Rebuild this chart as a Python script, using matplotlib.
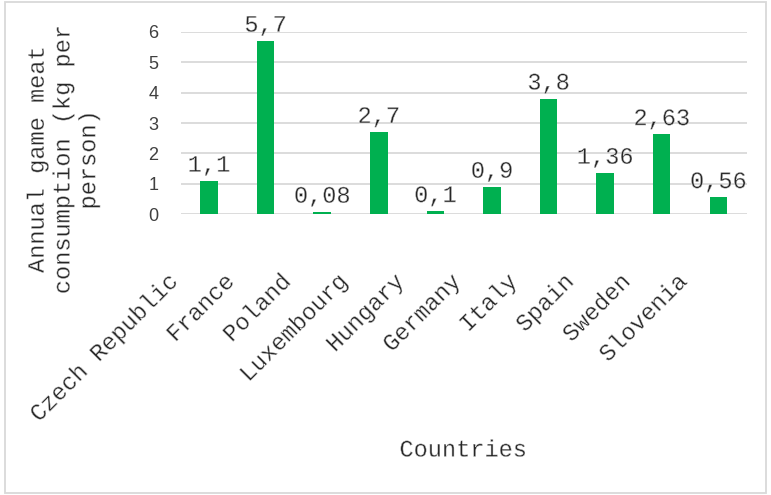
import matplotlib
matplotlib.use("Agg")
import matplotlib.pyplot as plt
import matplotlib.transforms as mtransforms
import matplotlib.patheffects as pe
from matplotlib.patches import Rectangle

countries = ["Czech Republic", "France", "Poland", "Luxembourg", "Hungary",
             "Germany", "Italy", "Spain", "Sweden", "Slovenia"]
consumption = [1.1, 5.7, 0.08, 2.7, 0.1, 0.9, 3.8, 1.36, 2.63, 0.56]
y_ticks = [0, 1, 2, 3, 4, 5, 6]
y_label = "Annual game meat\nconsumption (kg per\nperson)"
x_label = "Countries"

MONO = ["Liberation Mono", "DejaVu Sans Mono"]
SANS = ["Liberation Sans", "DejaVu Sans"]
TXT = "#262626"
DPI = 100
THIN = [pe.Normal(), pe.Stroke(linewidth=0.35, foreground="white")]

fig = plt.figure(figsize=(7.71, 4.95), dpi=DPI)
ax = fig.add_axes([180.7 / 771, 1 - 214.3 / 495, (746.6 - 180.7) / 771, (214.3 - 31.7) / 495])

x = list(range(len(countries)))
bars = ax.bar(x, consumption, width=0.31, color="#00B050", zorder=3)

ax.set_xlim(-0.5, len(countries) - 0.5)
ax.set_ylim(0, 6)
ax.set_yticks(y_ticks)
ax.set_yticklabels([str(t) for t in y_ticks], family=SANS, fontsize=13, color="#404040")
ax.tick_params(axis="y", length=0, pad=16)
ax.yaxis.grid(True, color="#D9D9D9", lw=1.3, zorder=0)
for s in ax.spines.values():
    s.set_visible(False)

ax.set_xticks(x)
ax.set_xticklabels(countries, family=MONO, fontsize=17, color=TXT,
                   rotation=45, ha="right", va="center", rotation_mode="anchor")
ax.tick_params(axis="x", length=0, pad=46)
off = mtransforms.ScaledTranslation(-35 / DPI, 0, fig.dpi_scale_trans)
for lab in ax.get_xticklabels():
    lab.set_transform(lab.get_transform() + off)
    lab.set_path_effects(THIN)

for xi, v in zip(x, consumption):
    ax.annotate(str(v).replace(".", ","), (xi, v), xytext=(0, 3), textcoords="offset points",
                ha="center", va="bottom", family=MONO, fontsize=17, color=TXT,
                path_effects=THIN)

fig.text(463 / 771, 1 - 450 / 495, x_label, ha="center", va="center",
         family=MONO, fontsize=17, color=TXT, path_effects=THIN)
fig.text(63 / 771, 1 - 160 / 495, y_label, ha="center", va="center", rotation=90,
         multialignment="center", linespacing=1.15, family=MONO, fontsize=17, color=TXT,
         path_effects=THIN)

fig.patches.append(Rectangle((5 / 771, 2 / 495), 761 / 771, 491 / 495, transform=fig.transFigure,
                             fill=False, ec="#D9D9D9", lw=1.3))

fig.savefig("out.png", dpi=DPI)
